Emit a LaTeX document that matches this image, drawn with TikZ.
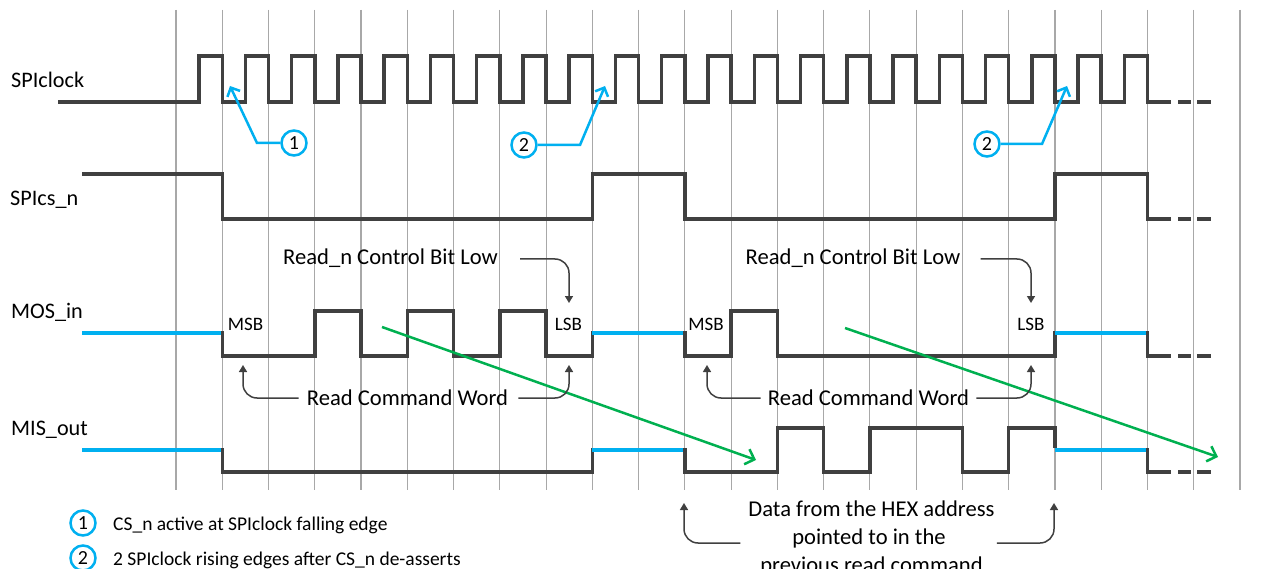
\documentclass[tikz,border=0pt]{standalone}
\usepackage{fontspec}
\setmainfont{Carlito}
\usetikzlibrary{arrows.meta}
\definecolor{sigcol}{HTML}{404040}
\definecolor{gridcol}{HTML}{A8A8A8}
\definecolor{idlecol}{HTML}{00B0F0}
\definecolor{flowcol}{HTML}{00B050}

\begin{document}
\begin{tikzpicture}[x=1pt,y=-1pt,
  gridline/.style={draw=gridcol,line width=1.1pt},
  sig/.style={draw=sigcol,line width=3.5pt,line join=miter},
  idle/.style={draw=idlecol,line width=3.5pt},
  tailseg/.style={sig,dash pattern=on 13pt off 6pt on 14pt off 60pt},
  siglabel/.style={anchor=base west,inner sep=0pt,font=\fontsize{22.2}{26}\selectfont},
  note/.style={anchor=base,inner sep=0pt,font=\fontsize{22.6}{26}\selectfont},
  bit/.style={anchor=base,inner sep=0pt,font=\fontsize{19}{22}\selectfont},
  legendtext/.style={anchor=base west,inner sep=0pt,font=\fontsize{19.5}{23}\selectfont},
  marker/.style={circle,draw=idlecol,line width=2.5pt,minimum size=25pt,inner sep=0pt,
                 font=\fontsize{20}{24}\selectfont},
  annot/.style={draw=sigcol,line width=1.5pt,rounded corners=14pt,
                -{Triangle[length=7pt,width=8pt]}},
  callout/.style={draw=idlecol,line width=2.5pt,-{Straight Barb[length=7pt,width=14pt]}},
  flow/.style={draw=flowcol,line width=2.5pt,-{Straight Barb[length=8pt,width=16pt]}}
]
% canvas
\fill[white] (0,0) rectangle (1279,569);
\useasboundingbox (0,0) rectangle (1279,569);

% timing grid, one line per clock period
\foreach \k in {0,...,23}
  \draw[gridline] ({176+46.26*\k},10) -- ({176+46.26*\k},490);

% signal names
\node[siglabel] (lclk) at (11,88)  {SPIclock};
\node[siglabel] (lcs)  at (10,206) {SPIcs\_n};
\node[siglabel] (lmos) at (11,318) {MOS\_in};
\node[siglabel] (lmis) at (11,435) {MIS\_out};

% SPIclock: 21 pulses, falling edges on the grid
\draw[sig] (58,102) \foreach \k in {0,...,20}{
    -- ({199.13+46.26*\k},102) -- ({199.13+46.26*\k},56)
    -- ({222.26+46.26*\k},56)  -- ({222.26+46.26*\k},102)} -- (1171,102);
\draw[tailseg] (1178,102) -- (1211,102);

% SPIcs_n
\draw[sig] (82,174) -- (222.26,174) -- (222.26,219) -- (592.34,219) -- (592.34,174)
  -- (684.86,174) -- (684.86,219) -- (1054.94,219) -- (1054.94,174)
  -- (1147.46,174) -- (1147.46,219) -- (1171,219);
\draw[tailseg] (1178,219) -- (1211,219);

% MOS_in
\draw[idle] (82,333) -- (222.26,333);
\draw[sig] (222.26,331.3) -- (222.26,356) -- (314.78,356) -- (314.78,311) -- (361.04,311)
  -- (361.04,356) -- (407.30,356) -- (407.30,311) -- (453.56,311) -- (453.56,356)
  -- (499.82,356) -- (499.82,311) -- (546.08,311) -- (546.08,356) -- (592.34,356)
  -- (592.34,331.3);
\draw[idle] (592.34,333) -- (684.86,333);
\draw[sig] (684.86,331.3) -- (684.86,356) -- (731.12,356) -- (731.12,311) -- (777.38,311)
  -- (777.38,356) -- (1054.94,356) -- (1054.94,331.3);
\draw[idle] (1054.94,333) -- (1147.46,333);
\draw[sig] (1147.46,331.3) -- (1147.46,356) -- (1171,356);
\draw[tailseg] (1178,356) -- (1211,356);

% MIS_out
\draw[idle] (82,450) -- (222.26,450);
\draw[sig] (222.26,448.3) -- (222.26,472) -- (592.34,472) -- (592.34,448.3);
\draw[idle] (592.34,450) -- (684.86,450);
\draw[sig] (684.86,448.3) -- (684.86,472) -- (777.38,472) -- (777.38,428) -- (823.64,428)
  -- (823.64,472) -- (869.90,472) -- (869.90,428) -- (962.42,428) -- (962.42,472)
  -- (1008.68,472) -- (1008.68,428) -- (1054.94,428) -- (1054.94,448.3);
\draw[idle] (1054.94,450) -- (1147.46,450);
\draw[sig] (1147.46,448.3) -- (1147.46,472) -- (1171,472);
\draw[tailseg] (1178,472) -- (1211,472);

% bit markers
\node[bit] (msb1) at (245.5,330) {MSB};
\node[bit] (lsb1) at (568.5,330) {LSB};
\node[bit] (msb2) at (706,330)   {MSB};
\node[bit] (lsb2) at (1031,330)  {LSB};

% command word -> returned data
\coordinate (f1s) at (382,327);
\coordinate (f1e) at (756,460);
\coordinate (f2s) at (845,328);
\coordinate (f2e) at (1218,457);
\draw[flow] (f1s) -- (f1e);
\draw[flow] (f2s) -- (f2e);

% annotations, first transfer
\node[note] (rn1) at (390.5,265) {Read\_n Control Bit Low};
\coordinate (rn1tip) at (569,303);
\draw[annot] (rn1.base east) ++(22,-6) -| (rn1tip);
\node[note] (rc1) at (407.5,405) {Read Command Word};
\coordinate (rc1l) at (243,365);
\coordinate (rc1r) at (569,365);
\draw[annot] (rc1.base west) ++(-8,-7) -| (rc1l);
\draw[annot] (rc1.base east) ++(10,-7) -| (rc1r);

% annotations, second transfer
\node[note] (rn2) at (853,265) {Read\_n Control Bit Low};
\coordinate (rn2tip) at (1031,303);
\draw[annot] (rn2.base east) ++(20,-6) -| (rn2tip);
\node[note] (rc2) at (868.5,405) {Read Command Word};
\coordinate (rc2l) at (707,365);
\coordinate (rc2r) at (1031,365);
\draw[annot] (rc2.base west) ++(-7,-7) -| (rc2l);
\draw[annot] (rc2.base east) ++(7,-7) -| (rc2r);

% returned data
\node[note] (d1) at (871.5,516) {Data from the HEX address};
\node[note] (d2) at (869,544)   {pointed to in the};
\node[note] (d3) at (871.5,572) {previous read command};
\coordinate (dl) at (684,503);
\coordinate (dr) at (1054,503);
\draw[annot] (d1.west |- d2.base) ++(-8,-1) -| (dl);
\draw[annot] (d1.east |- d2.base) ++(2,-1) -| (dr);

% numbered callouts on the clock
\node[marker] (c1) at (294,143) {1};
\coordinate (c1tip) at (230,86);
\draw[callout] (c1.west) -- (257,143) -- (c1tip);
\node[marker] (c2a) at (524,145) {2};
\coordinate (c2atip) at (605,86);
\draw[callout] (c2a.east) -- (580,145) -- (c2atip);
\node[marker] (c2b) at (987,144) {2};
\coordinate (c2btip) at (1067,86);
\draw[callout] (c2b.east) -- (1042,144) -- (c2btip);

% legend
\node[marker] (k1) at (83,523) {1};
\node[legendtext] (k1t) at (113,530) {CS\_n active at SPIclock falling edge};
\node[marker] (k2) at (83,558) {2};
\node[legendtext] (k2t) at (113,565) {2 SPIclock rising edges after CS\_n de-asserts};
\end{tikzpicture}
\end{document}
